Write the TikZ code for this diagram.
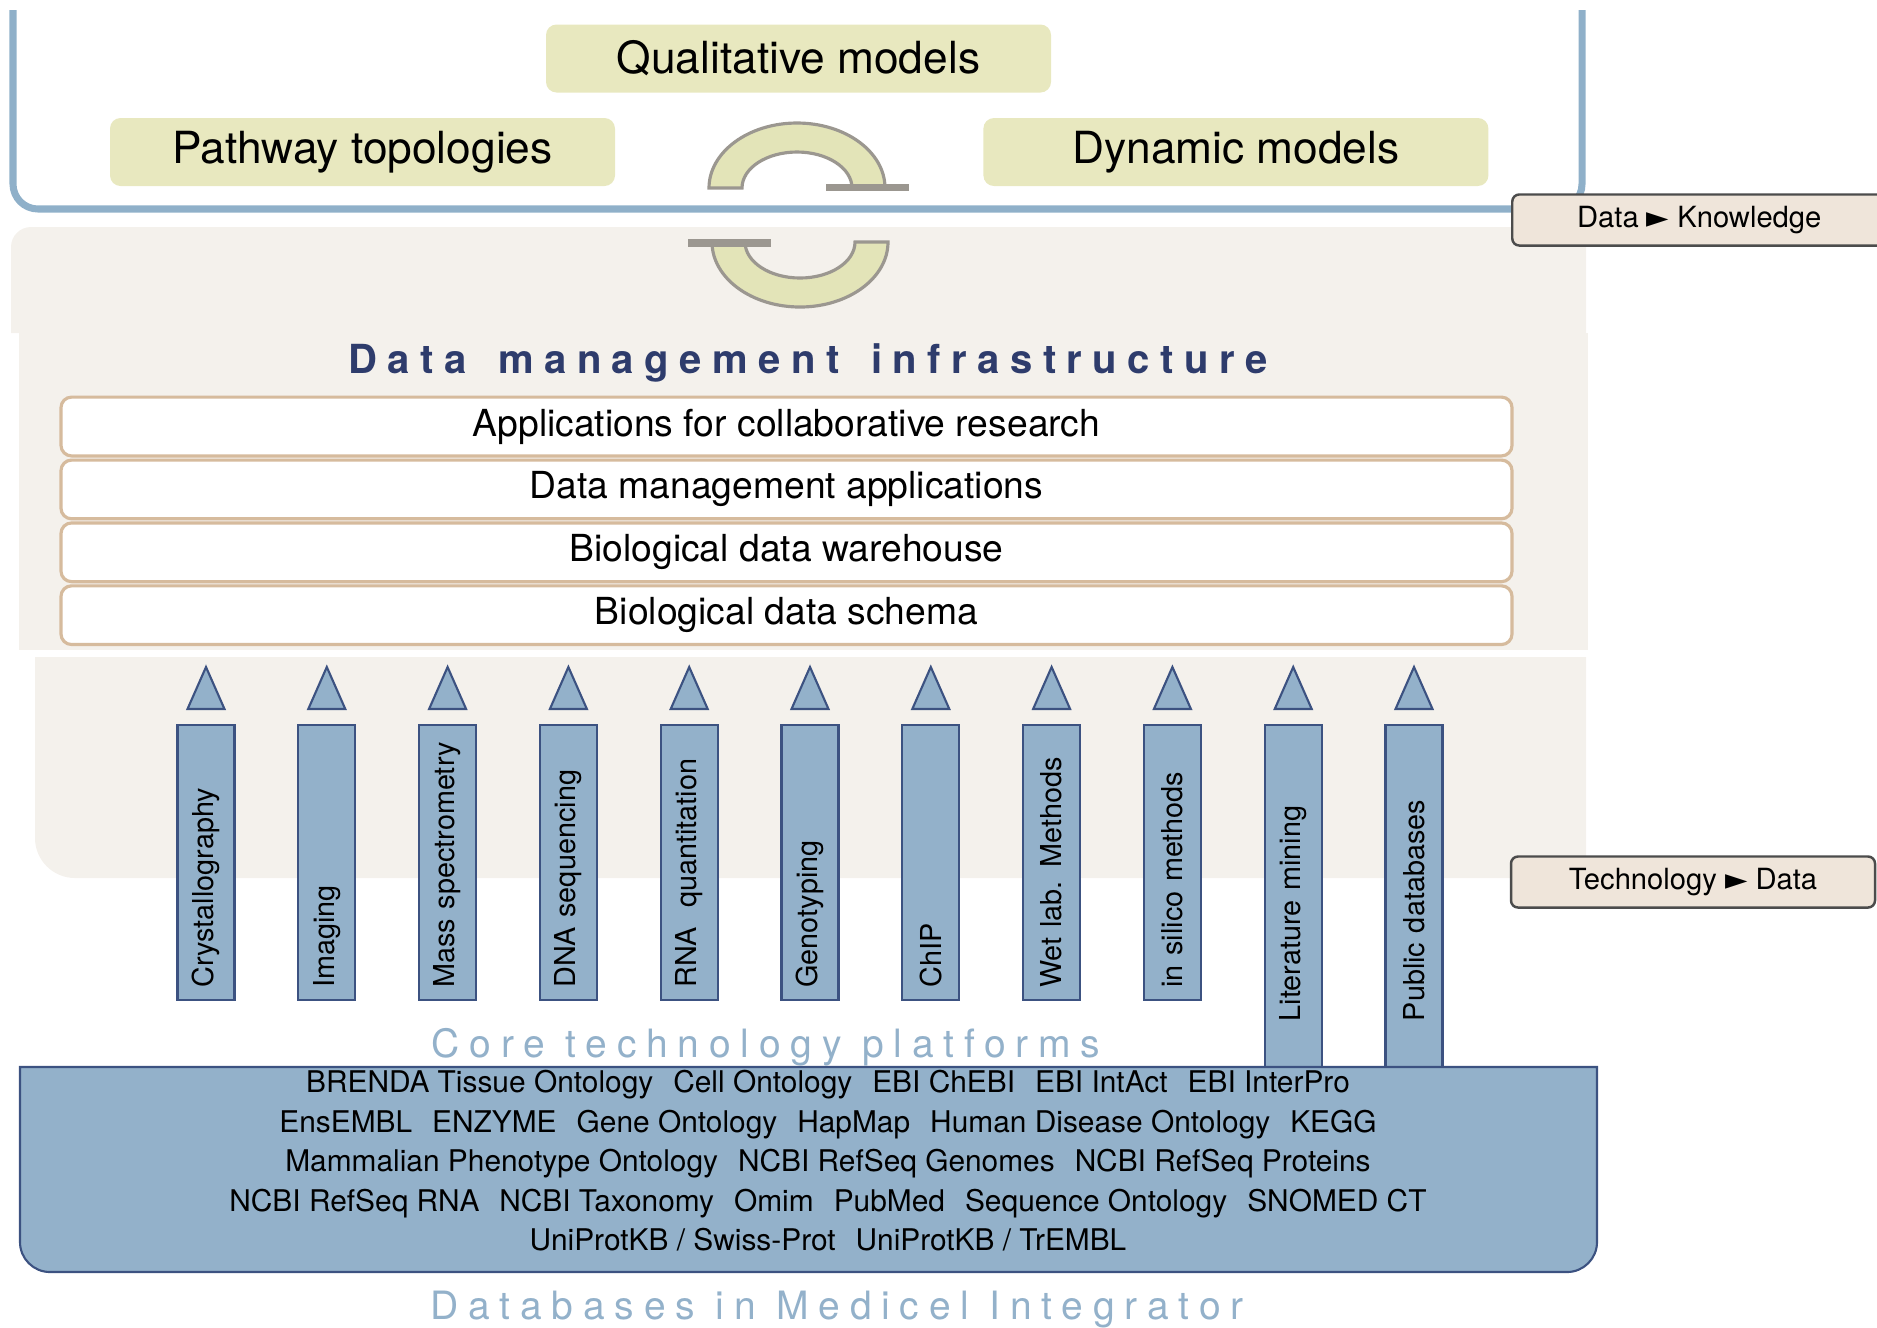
\documentclass[tikz,border=0pt]{standalone}
\usepackage{fontspec}
\setmainfont{TeX Gyre Heros}
\newfontfamily\trackedfont[LetterSpace=26]{TeX Gyre Heros}
\newfontfamily\widefont[LetterSpace=25]{TeX Gyre Heros}
\newfontfamily\symfont{DejaVu Sans}
\usetikzlibrary{positioning}
\definecolor{frameblue}{HTML}{8FB0C9}
\definecolor{modelfill}{HTML}{E8E8BF}
\definecolor{bandfill}{HTML}{E3E4B8}
\definecolor{bandline}{HTML}{9B9790}
\definecolor{bgbeige}{HTML}{F4F1EC}
\definecolor{layerline}{HTML}{D6BB9D}
\definecolor{navy}{HTML}{2E3C6C}
\definecolor{techblue}{HTML}{93B1CA}
\definecolor{techline}{HTML}{3C5281}
\definecolor{tagfill}{HTML}{EFE5DA}
\newcommand{\blacktip}{{\symfont ►}}
\newcommand{\dbsep}{\hspace{0.67em}}

\begin{document}
\begin{tikzpicture}[
  font=\fontsize{8.2}{10}\selectfont,
  model/.style={fill=modelfill, rounded corners=3pt, minimum width=5.05cm, minimum height=0.68cm, font=\fontsize{12.6}{14}\selectfont},
  layer/.style={draw=layerline, line width=0.9pt, fill=white, rounded corners=3pt, minimum width=14.51cm, minimum height=0.58cm, font=\fontsize{10.6}{12}\selectfont},
  tech/.style={draw=techline, line width=0.6pt, fill=techblue, rotate=90, anchor=east, minimum width=2.75cm, minimum height=0.57cm, text width=2.5cm, align=left, inner xsep=0pt},
  tip/.style={draw=techline, line width=0.6pt, fill=techblue},
  tag/.style={draw=black!70, line width=0.7pt, fill=tagfill, rounded corners=2pt, minimum height=0.5cm, font=\fontsize{8.3}{10}\selectfont},
  heading/.style={text=techblue, font=\fontsize{11.1}{13}\selectfont\widefont},
  band/.pic={
    \filldraw[fill=bandfill, draw=bandline, line width=0.9pt] (-0.88,0) arc[start angle=180, end angle=0, x radius=0.88, y radius=0.65] -- (0.55,0) arc[start angle=0, end angle=180, x radius=0.55, y radius=0.36] -- cycle;
    \fill[bandline] (0.29,0.045) rectangle (1.12,-0.03);
  }
]
\useasboundingbox (0,0) rectangle (18.77,-13.27);

% shaded backdrop of the infrastructure and platform tiers
\fill[bgbeige] (0.11,-3.33) -- (0.11,-2.47) arc[start angle=180, end angle=90, radius=0.2] -- (15.86,-2.27) -- (15.86,-3.33) -- cycle;
\fill[bgbeige] (0.19,-3.33) rectangle (15.88,-6.50);
\fill[bgbeige] (0.35,-6.57) -- (15.86,-6.57) -- (15.86,-8.78) -- (0.75,-8.78) arc[start angle=270, end angle=180, radius=0.4] -- cycle;

% knowledge tier
\draw[frameblue, line width=2pt, rounded corners=0.25cm] (0.13,-0.10) -- (0.13,-2.09) -- (15.82,-2.09) -- (15.82,-0.10);
\node[model] (qual) at (7.985,-0.585) {Qualitative models};
\node[model] (pathway) at (3.625,-1.52) {Pathway topologies};
\node[model, right=3.67cm of pathway] (dynamic) {Dynamic models};
\pic at (7.97,-1.88) {band};
\pic[rotate=180] at (8.00,-2.42) {band};

% data management tier
\node[font=\fontsize{11.4}{13}\selectfont\trackedfont\bfseries, text=navy] (infra) at (8.08,-3.63) {Data\hspace{0.25em} management\hspace{0.25em} infrastructure};
\node[layer] (collab) at (7.865,-4.265) {Applications for collaborative research};
\node[layer, below=0.01cm of collab] (dmapps) {Data management applications};
\node[layer, below=0.01cm of dmapps] (warehouse) {Biological data warehouse};
\node[layer, below=0.01cm of warehouse] (schema) {Biological data schema};

% technology platforms
\node[tech] (cryst) at (2.060,-7.24) {Crystallography};
\node[tech] (imaging) at (3.268,-7.24) {Imaging};
\node[tech] (massspec) at (4.476,-7.24) {Mass spectrometry};
\node[tech] (dnaseq) at (5.684,-7.24) {DNA sequencing};
\node[tech] (rnaquant) at (6.892,-7.24) {RNA\ \ quantitation};
\node[tech] (genotyp) at (8.100,-7.24) {Genotyping};
\node[tech] (chip) at (9.308,-7.24) {ChIP};
\node[tech] (wetlab) at (10.516,-7.24) {Wet lab. Methods};
\node[tech] (insilico) at (11.724,-7.24) {in silico methods};
\node[tech, minimum width=3.42cm] (litmining) at (12.932,-7.24) {Literature mining};
\node[tech, minimum width=3.42cm] (pubdb) at (14.140,-7.24) {Public databases};

\path[tip] ([yshift=0.15cm]cryst.east) -- ++(0.185,0) -- ++(-0.185,0.42) -- ++(-0.185,-0.42) -- cycle;
\path[tip] ([yshift=0.15cm]imaging.east) -- ++(0.185,0) -- ++(-0.185,0.42) -- ++(-0.185,-0.42) -- cycle;
\path[tip] ([yshift=0.15cm]massspec.east) -- ++(0.185,0) -- ++(-0.185,0.42) -- ++(-0.185,-0.42) -- cycle;
\path[tip] ([yshift=0.15cm]dnaseq.east) -- ++(0.185,0) -- ++(-0.185,0.42) -- ++(-0.185,-0.42) -- cycle;
\path[tip] ([yshift=0.15cm]rnaquant.east) -- ++(0.185,0) -- ++(-0.185,0.42) -- ++(-0.185,-0.42) -- cycle;
\path[tip] ([yshift=0.15cm]genotyp.east) -- ++(0.185,0) -- ++(-0.185,0.42) -- ++(-0.185,-0.42) -- cycle;
\path[tip] ([yshift=0.15cm]chip.east) -- ++(0.185,0) -- ++(-0.185,0.42) -- ++(-0.185,-0.42) -- cycle;
\path[tip] ([yshift=0.15cm]wetlab.east) -- ++(0.185,0) -- ++(-0.185,0.42) -- ++(-0.185,-0.42) -- cycle;
\path[tip] ([yshift=0.15cm]insilico.east) -- ++(0.185,0) -- ++(-0.185,0.42) -- ++(-0.185,-0.42) -- cycle;
\path[tip] ([yshift=0.15cm]litmining.east) -- ++(0.185,0) -- ++(-0.185,0.42) -- ++(-0.185,-0.42) -- cycle;
\path[tip] ([yshift=0.15cm]pubdb.east) -- ++(0.185,0) -- ++(-0.185,0.42) -- ++(-0.185,-0.42) -- cycle;

\node[heading] (coretech) at (7.66,-10.475) {Core technology platforms};

% integrated databases
\draw[fill=techblue, draw=techline, line width=0.6pt] (0.20,-10.67) -- (15.97,-10.67) -- (15.97,-12.42) arc[start angle=0, end angle=-90, radius=0.3] -- (0.50,-12.72) arc[start angle=270, end angle=180, radius=0.3] -- cycle;
\node[font=\fontsize{8.5}{11.24}\selectfont, align=center] (dblist) at (8.28,-11.61) {BRENDA Tissue Ontology\dbsep Cell Ontology\dbsep EBI ChEBI\dbsep EBI IntAct\dbsep EBI InterPro\\
  EnsEMBL\dbsep ENZYME\dbsep Gene Ontology\dbsep HapMap\dbsep Human Disease Ontology\dbsep KEGG\\
  Mammalian Phenotype Ontology\dbsep NCBI RefSeq Genomes\dbsep NCBI RefSeq Proteins\\
  NCBI RefSeq RNA\dbsep NCBI Taxonomy\dbsep Omim\dbsep PubMed\dbsep Sequence Ontology\dbsep SNOMED CT\\
  UniProtKB / Swiss-Prot\dbsep UniProtKB / TrEMBL};
\node[heading] (medicel) at (8.37,-13.095) {Databases in Medicel Integrator};

% tier transitions
\node[tag, anchor=west, minimum width=3.74cm] (dataknow) at (15.11,-2.20) {Data \blacktip{} Knowledge};
\node[tag, minimum width=3.64cm] (techdata) at (16.93,-8.82) {Technology \blacktip{} Data};
\end{tikzpicture}
\end{document}
